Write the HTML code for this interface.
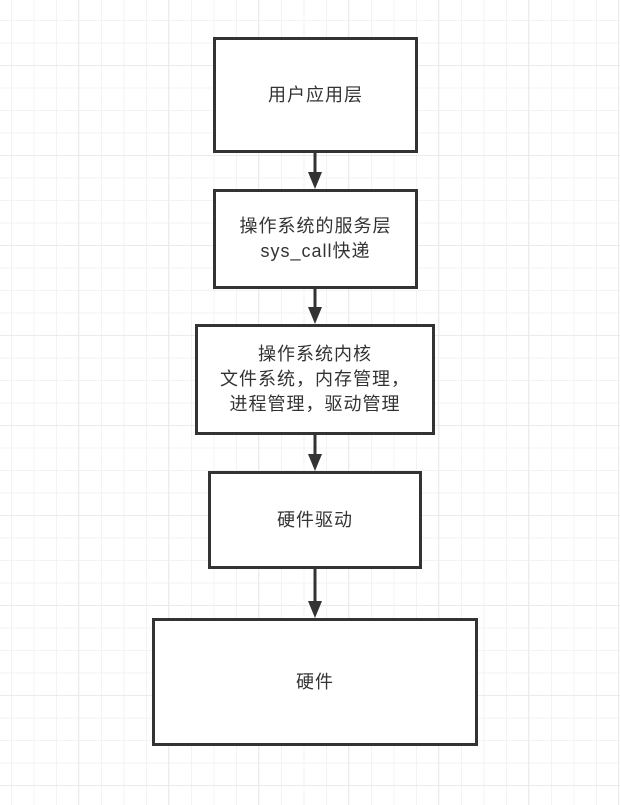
<!DOCTYPE html>
<html><head><meta charset="utf-8"><style>
html,body{margin:0;padding:0;}
body{width:620px;height:805px;background:#fff;position:relative;overflow:hidden;
background-image:
linear-gradient(to right,#ebebeb 1px,transparent 1px),
linear-gradient(to bottom,#ebebeb 1px,transparent 1px),
linear-gradient(to right,#f3f3f3 1px,transparent 1px),
linear-gradient(to bottom,#f3f3f3 1px,transparent 1px);
background-size:90px 90px,90px 90px,22.5px 22.5px,22.5px 22.5px;
background-position:78px 0,0 65px,11px 0,0 20px;
font-family:"Liberation Sans","Noto Sans CJK SC",sans-serif;}
.b{position:absolute;box-sizing:border-box;border:3px solid #333;background:#fff;display:flex;align-items:center;justify-content:center;text-align:center;font-size:18px;letter-spacing:1px;line-height:25px;color:#333;}
svg{position:absolute;left:0;top:0;}
</style></head><body>
<svg width="620" height="805">
<g stroke="#333" stroke-width="3">
<line x1="315" y1="152" x2="315" y2="176"/>
<line x1="315" y1="288" x2="315" y2="311"/>
<line x1="315" y1="434" x2="315" y2="458"/>
<line x1="315" y1="568" x2="315" y2="605"/>
</g>
<g fill="#333">
<polygon points="308,172 322,172 315,189"/>
<polygon points="308,307 322,307 315,324"/>
<polygon points="308,454 322,454 315,471"/>
<polygon points="308,601 322,601 315,618"/>
</g>
</svg>
<div class="b" style="left:213px;top:37px;width:205px;height:116px;">用户应用层</div>
<div class="b" style="left:213px;top:189px;width:205px;height:100px;">操作系统的服务层<br>sys_call快递</div>
<div class="b" style="left:195px;top:324px;width:240px;height:111px;">操作系统内核<br>文件系统，内存管理，<br>进程管理，驱动管理</div>
<div class="b" style="left:208px;top:471px;width:214px;height:98px;">硬件驱动</div>
<div class="b" style="left:152px;top:618px;width:326px;height:128px;">硬件</div>
</body></html>
